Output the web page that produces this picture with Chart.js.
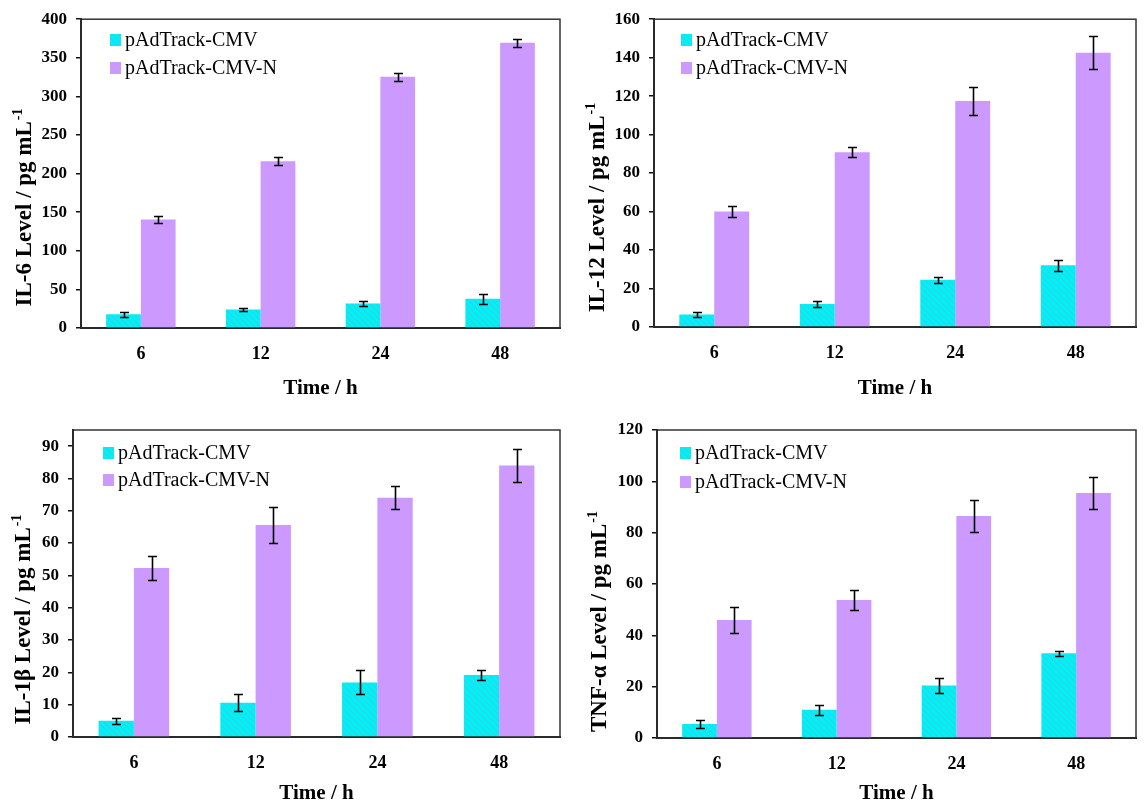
<!DOCTYPE html>
<html>
<head>
<meta charset="utf-8">
<title>Cytokine levels</title>
<script src="https://cdn.jsdelivr.net/npm/chart.js@4.4.1/dist/chart.umd.min.js"></script>
<style>
  html, body { margin: 0; padding: 0; background: #fff; }
  #wrap { position: relative; width: 1146px; height: 804px; overflow: hidden; }
  .panel { position: absolute; width: 573px; height: 402px; }
</style>
</head>
<body>
<div id="wrap">
  <div class="panel" style="left:0;top:0"><canvas id="c-il6" width="573" height="402"></canvas></div>
  <div class="panel" style="left:573px;top:0"><canvas id="c-il12" width="573" height="402"></canvas></div>
  <div class="panel" style="left:0;top:402px"><canvas id="c-il1b" width="573" height="402"></canvas></div>
  <div class="panel" style="left:573px;top:402px"><canvas id="c-tnf" width="573" height="402"></canvas></div>
</div>
<script>
// --- Data ---
const timeLabels = ['6', '12', '24', '48'];
const seriesNames = ['pAdTrack-CMV', 'pAdTrack-CMV-N'];

const il6Cmv = [17.7, 24, 31.8, 37.9];
const il6CmvErr = [3, 2.4, 2.8, 6.5];
const il6CmvN = [140.6, 216, 325.5, 369.5];
const il6CmvNErr = [4.5, 5, 5, 5];

const il12Cmv = [6.5, 12, 24.5, 32.1];
const il12CmvErr = [1.5, 1.6, 1.5, 2.8];
const il12CmvN = [60, 90.8, 117.5, 142.6];
const il12CmvNErr = [3, 2.6, 7.2, 8.5];

const il1bCmv = [5, 10.6, 16.9, 19.2];
const il1bCmvErr = [1, 2.6, 3.7, 1.6];
const il1bCmvN = [52.3, 65.6, 74, 84];
const il1bCmvNErr = [3.6, 5.5, 3.6, 5];

const tnfCmv = [5.5, 11, 20.5, 33];
const tnfCmvErr = [1.5, 2, 3, 1];
const tnfCmvN = [46, 53.8, 86.5, 95.5];
const tnfCmvNErr = [5.2, 3.8, 6.2, 6.2];

// --- Style ---
const SERIF = '"Liberation Serif", "Times New Roman", serif';
const PURPLE = '#cc99ff';

// cyan fill with thin diagonal hatching
function makeHatch() {
    const c = document.createElement('canvas');
    c.width = 6;
    c.height = 6;
    const g = c.getContext('2d');
    g.fillStyle = '#00f0f5';
    g.fillRect(0, 0, 6, 6);
    g.strokeStyle = '#45c6dc';
    g.lineWidth = 1;
    g.beginPath();
    g.moveTo(-1, -1); g.lineTo(7, 7);
    g.moveTo(-1, 5); g.lineTo(1, 7);
    g.moveTo(5, -1); g.lineTo(7, 1);
    g.stroke();
    return g.createPattern(c, 'repeat');
}
const HATCH = makeHatch();

// --- Plugins ---
const errorBars = {
    id: 'errorBars',
    afterDatasetsDraw(chart) {
        const ctx = chart.ctx;
        const yScale = chart.scales.y;
        ctx.save();
        ctx.strokeStyle = '#000';
        ctx.lineWidth = 1.6;
        chart.data.datasets.forEach((ds, i) => {
            chart.getDatasetMeta(i).data.forEach((bar, j) => {
                const v = ds.data[j];
                const e = ds.errors[j];
                const yt = Math.round(yScale.getPixelForValue(v + e)) + 0.5;
                const yb = Math.round(yScale.getPixelForValue(v - e)) + 0.5;
                const x = Math.round(bar.x) + 0.5;
                ctx.beginPath();
                ctx.moveTo(x, yt); ctx.lineTo(x, yb);
                ctx.moveTo(x - 4.5, yt); ctx.lineTo(x + 4.5, yt);
                ctx.moveTo(x - 4.5, yb); ctx.lineTo(x + 4.5, yb);
                ctx.stroke();
            });
        });
        ctx.restore();
    }
};

// frame round the plot area (top and right sides)
const plotFrame = {
    id: 'plotFrame',
    beforeDatasetsDraw(chart) {
        const a = chart.chartArea;
        const ctx = chart.ctx;
        ctx.save();
        ctx.strokeStyle = '#333';
        ctx.lineWidth = 1.5;
        ctx.strokeRect(a.left, a.top, a.right - a.left, a.bottom - a.top);
        ctx.restore();
    }
};

// rotated y title with a real superscript
const yTitle = {
    id: 'yTitle',
    afterDraw(chart, args, opts) {
        const ctx = chart.ctx;
        ctx.save();
        ctx.translate(opts.x, opts.y);
        ctx.rotate(-Math.PI / 2);
        ctx.fillStyle = '#000';
        ctx.textBaseline = 'alphabetic';
        ctx.textAlign = 'left';
        ctx.font = 'bold 23px ' + SERIF;
        const w1 = ctx.measureText(opts.text).width;
        ctx.font = 'bold 14px ' + SERIF;
        const w2 = ctx.measureText('-1').width;
        const x0 = -(w1 + w2) / 2;
        ctx.font = 'bold 23px ' + SERIF;
        ctx.fillText(opts.text, x0, 0);
        ctx.font = 'bold 14px ' + SERIF;
        ctx.fillText('-1', x0 + w1 + 1, -9);
        ctx.restore();
    }
};

// legend sitting inside the plot area
const boxLegend = {
    id: 'boxLegend',
    afterDraw(chart, args, opts) {
        const ctx = chart.ctx;
        ctx.save();
        ctx.font = '20px ' + SERIF;
        ctx.textBaseline = 'middle';
        chart.data.datasets.forEach((ds, i) => {
            const y = opts.rows[i];
            ctx.fillStyle = ds.backgroundColor;
            ctx.fillRect(opts.x, y - 6, 11, 12);
            ctx.fillStyle = '#000';
            ctx.fillText(ds.label, opts.x + 15, y + 1);
        });
        ctx.restore();
    }
};

// --- Panels ---
const panels = [
    { id: 'c-il6', title: 'IL-6 Level / pg mL', max: 400, step: 50,
      cmv: il6Cmv, cmvErr: il6CmvErr, cmvN: il6CmvN, cmvNErr: il6CmvNErr,
      area: { left: 81, top: 18, right: 560, bottom: 328 },
      titleX: 31, titleY: 208, legendX: 110, legendRows: [40, 68], xTitlePad: 3 },
    { id: 'c-il12', title: 'IL-12 Level / pg mL', max: 160, step: 20,
      cmv: il12Cmv, cmvErr: il12CmvErr, cmvN: il12CmvN, cmvNErr: il12CmvNErr,
      area: { left: 81, top: 18, right: 563, bottom: 327 },
      titleX: 31, titleY: 208, legendX: 108, legendRows: [40, 68], xTitlePad: 3 },
    { id: 'c-il1b', title: 'IL-1\u03b2 Level / pg mL', max: 95, step: 10,
      cmv: il1bCmv, cmvErr: il1bCmvErr, cmvN: il1bCmvN, cmvNErr: il1bCmvNErr,
      area: { left: 73, top: 28, right: 560, bottom: 335 },
      titleX: 30, titleY: 218, legendX: 103, legendRows: [51, 78], xTitlePad: 0 },
    { id: 'c-tnf', title: 'TNF-\u03b1 Level / pg mL', max: 120, step: 20,
      cmv: tnfCmv, cmvErr: tnfCmvErr, cmvN: tnfCmvN, cmvNErr: tnfCmvNErr,
      area: { left: 84, top: 28, right: 563, bottom: 336 },
      titleX: 33, titleY: 220, legendX: 107, legendRows: [51, 80], xTitlePad: 0 }
];

function buildChart(p) {
    const canvas = document.getElementById(p.id);
    const W = canvas.width;
    const H = canvas.height;

    return new Chart(canvas, {
        type: 'bar',
        data: {
            labels: timeLabels,
            datasets: [
                { label: seriesNames[0], data: p.cmv, errors: p.cmvErr, backgroundColor: HATCH },
                { label: seriesNames[1], data: p.cmvN, errors: p.cmvNErr, backgroundColor: PURPLE }
            ]
        },
        options: {
            responsive: false,
            animation: false,
            events: [],
            layout: { padding: { left: 0, bottom: 0, top: p.area.top, right: W - p.area.right } },
            datasets: { bar: { categoryPercentage: 0.58, barPercentage: 1, borderWidth: 0 } },
            scales: {
                x: {
                    grid: { display: false, drawTicks: false },
                    border: { display: true, color: '#111', width: 2 },
                    ticks: { color: '#000', padding: 16, font: { family: SERIF, size: 18, weight: 'bold' } },
                    title: {
                        display: true, text: 'Time / h', color: '#000',
                        font: { family: SERIF, size: 21, weight: 'bold', lineHeight: 1 },
                        padding: { top: 0, bottom: p.xTitlePad }
                    },
                    afterFit: (s) => { s.height = H - p.area.bottom; }
                },
                y: {
                    min: 0,
                    max: p.max,
                    grid: { drawOnChartArea: false, drawTicks: true, tickLength: 5, color: '#111', lineWidth: 1.5 },
                    border: { display: true, color: '#111', width: 2 },
                    ticks: { stepSize: p.step, includeBounds: false, color: '#000', padding: 9,
                             font: { family: SERIF, size: 17, weight: 'bold' } },
                    afterFit: (s) => { s.width = p.area.left; }
                }
            },
            plugins: {
                legend: { display: false },
                tooltip: { enabled: false },
                yTitle: { x: p.titleX, y: p.titleY, text: p.title },
                boxLegend: { x: p.legendX, rows: p.legendRows }
            }
        },
        plugins: [plotFrame, errorBars, yTitle, boxLegend]
    });
}

panels.forEach(buildChart);
</script>
</body>
</html>
